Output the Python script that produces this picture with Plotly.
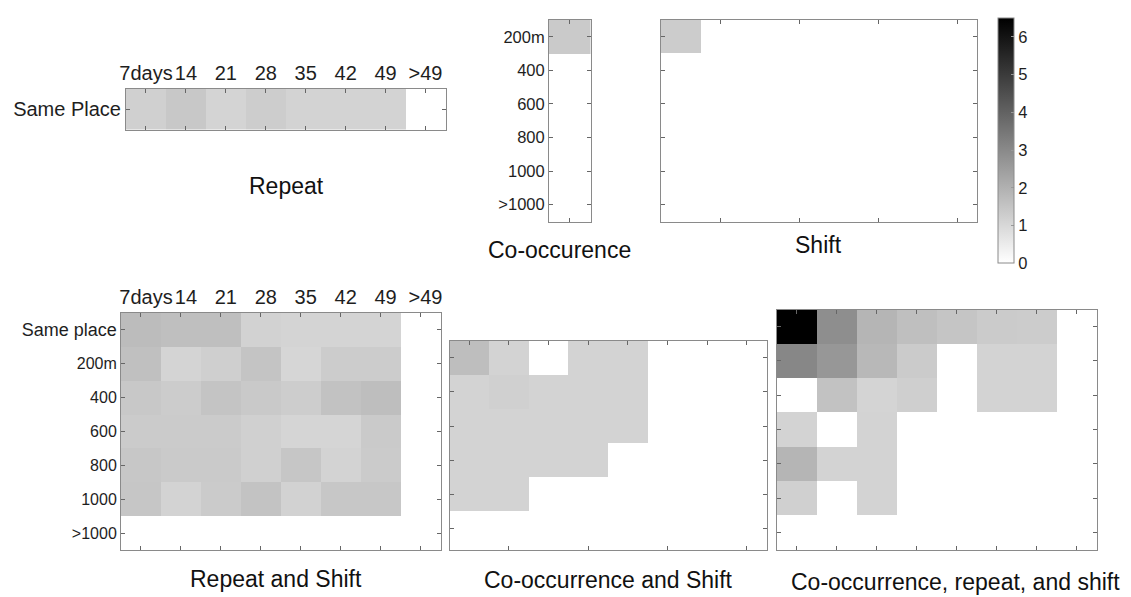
import plotly.graph_objects as go

W, H = 1131, 597

# ---------------- data ----------------
day_labels = ["7days", "14", "21", "28", "35", "42", "49", ">49"]
dist_labels_co = ["200m", "400", "600", "800", "1000", ">1000"]
dist_labels_rs = ["Same place", "200m", "400", "600", "800", "1000", ">1000"]

repeat_vals = [[1.20, 1.40, 1.10, 1.27, 1.12, 1.12, 1.12, 0.0]]

cooc_vals = [[1.35], [0.0], [0.0], [0.0], [0.0], [0.0]]

shift_vals = [
    [1.30, 0, 0, 0, 0, 0, 0, 0],
    [0, 0, 0, 0, 0, 0, 0, 0],
    [0, 0, 0, 0, 0, 0, 0, 0],
    [0, 0, 0, 0, 0, 0, 0, 0],
    [0, 0, 0, 0, 0, 0, 0, 0],
    [0, 0, 0, 0, 0, 0, 0, 0],
]

repeat_shift_vals = [
    [1.70, 1.62, 1.62, 1.14, 1.10, 1.10, 1.10, 0.0],
    [1.60, 1.10, 1.22, 1.50, 1.05, 1.30, 1.30, 0.0],
    [1.40, 1.30, 1.50, 1.38, 1.27, 1.55, 1.65, 0.0],
    [1.33, 1.33, 1.33, 1.20, 1.08, 1.08, 1.35, 0.0],
    [1.42, 1.36, 1.36, 1.20, 1.45, 1.12, 1.33, 0.0],
    [1.45, 1.12, 1.33, 1.52, 1.15, 1.42, 1.42, 0.0],
    [0, 0, 0, 0, 0, 0, 0, 0],
]

cooc_shift_vals = [
    [1.65, 1.12, 0.0, 1.12, 1.12, 0, 0, 0],
    [1.12, 1.20, 1.12, 1.12, 1.12, 0, 0, 0],
    [1.12, 1.12, 1.12, 1.12, 1.12, 0, 0, 0],
    [1.12, 1.12, 1.12, 1.12, 0, 0, 0, 0],
    [1.12, 1.12, 0, 0, 0, 0, 0, 0],
    [0, 0, 0, 0, 0, 0, 0, 0],
]

crs_vals = [
    [6.50, 2.88, 1.88, 1.62, 1.48, 1.32, 1.30, 0.0],
    [3.05, 2.65, 1.82, 1.33, 0.0, 1.12, 1.12, 0.0],
    [0.0, 1.55, 1.10, 1.22, 0.0, 1.12, 1.12, 0.0],
    [1.12, 0.0, 1.12, 0, 0, 0, 0, 0],
    [1.88, 1.12, 1.12, 0, 0, 0, 0, 0],
    [1.20, 0.0, 1.12, 0, 0, 0, 0, 0],
    [0, 0, 0, 0, 0, 0, 0, 0],
]

titles = ["Repeat", "Co-occurence", "Shift", "Repeat and Shift",
          "Co-occurrence and Shift", "Co-occurrence, repeat, and shift"]
ZMAX = 6.5
cbar_ticks = [0, 1, 2, 3, 4, 5, 6]

# ---------------- layout helpers ----------------
FONT = "Arial, Liberation Sans, sans-serif"
LINE = "#8a8a8a"
TXT = "#1e1e1e"


def xd(x0, x1):
    return [x0 / W, x1 / W]


def yd(y0, y1):
    return [1 - y1 / H, 1 - y0 / H]


def base_axis(**kw):
    d = dict(showgrid=False, zeroline=False, showline=True, linecolor=LINE,
             linewidth=1, mirror="ticks", ticks="inside", ticklen=4,
             tickcolor="#666", tickwidth=1, fixedrange=True, tickangle=0,
             automargin=False,
             tickfont=dict(family=FONT, size=16, color=TXT))
    d.update(kw)
    return d


fig = go.Figure()


def add_panel(idx, z, xdom, ydom, xaxis_kw, yaxis_kw, yrange=None):
    nrow = len(z)
    ncol = len(z[0])
    xs = list(range(1, ncol + 1))
    ys = list(range(1, nrow + 1))
    sfx = "" if idx == 1 else str(idx)
    fig.add_trace(go.Heatmap(z=z, x=xs, y=ys, coloraxis="coloraxis",
                             xaxis="x" + sfx, yaxis="y" + sfx,
                             hoverinfo="skip"))
    xa = base_axis(domain=xdom, range=[0.5, ncol + 0.5], anchor="y" + sfx)
    xa.update(xaxis_kw)
    ya = base_axis(domain=ydom,
                   range=yrange if yrange else [nrow + 0.5, 0.5],
                   anchor="x" + sfx)
    ya.update(yaxis_kw)
    fig.layout["xaxis" + sfx] = xa
    fig.layout["yaxis" + sfx] = ya


big = dict(family=FONT, size=20, color=TXT)

# P1 Repeat
add_panel(1, repeat_vals, xd(126, 445.5), yd(89, 129.5),
          dict(side="top", tickvals=list(range(1, 9)), ticktext=day_labels,
               tickfont=big),
          dict(tickvals=[1], ticktext=["Same Place"], tickfont=big))
# P2 Co-occurence
add_panel(2, cooc_vals, xd(549, 590.5), yd(20, 221.5),
          dict(tickvals=[1], showticklabels=False),
          dict(tickvals=list(range(1, 7)), ticktext=dist_labels_co,
               tickfont=dict(family=FONT, size=16.5, color=TXT)))
# P3 Shift
add_panel(3, shift_vals, xd(661, 977), yd(19.5, 221.5),
          dict(tickvals=[2, 4, 6, 8], showticklabels=False),
          dict(tickvals=list(range(1, 7)), showticklabels=False))
# P4 Repeat and Shift
rs_text = ['<span style="font-size:18px">Same place</span>'] + dist_labels_rs[1:]
add_panel(4, repeat_shift_vals, xd(121, 440.5), yd(313, 550),
          dict(side="top", tickvals=list(range(1, 9)), ticktext=day_labels,
               tickfont=big, ticklabelshift=5),
          dict(tickvals=list(range(1, 8)), ticktext=rs_text,
               tickfont=dict(family=FONT, size=16, color=TXT)))
# P5 Co-occurrence and Shift
add_panel(5, cooc_shift_vals, xd(449.5, 766.5), yd(340.5, 550),
          dict(tickvals=[2, 4, 6, 8], showticklabels=False, mirror=True),
          dict(tickvals=list(range(1, 7)), showticklabels=False),
          yrange=[6.62, 0.5])
# extra top tick row for P5 (ticks at every column on the top edge)
fig.layout["xaxis7"] = base_axis(domain=xd(449.5, 766.5), range=[0.5, 8.5],
                                 overlaying="x5", anchor="y5", side="top",
                                 showline=False, mirror=False,
                                 tickvals=list(range(1, 9)),
                                 showticklabels=False)
fig.add_trace(go.Scatter(x=[None], y=[None], xaxis="x7", yaxis="y5",
                         mode="markers", showlegend=False, hoverinfo="skip"))
# P6 Co-occurrence, repeat, and shift
add_panel(6, crs_vals, xd(777, 1096.5), yd(309.5, 549.5),
          dict(tickvals=list(range(1, 9)), showticklabels=False),
          dict(tickvals=list(range(1, 8)), showticklabels=False))

# colour axis / colourbar
fig.update_layout(coloraxis=dict(
    cmin=0, cmax=ZMAX,
    colorscale=[[0, "#ffffff"], [1, "#000000"]],
    colorbar=dict(
        x=997.7 / W, xanchor="left", xpad=0, ypad=0,
        y=1 - 140.6 / H, yanchor="middle",
        lenmode="pixels", len=245, thicknessmode="pixels", thickness=16,
        outlinewidth=1, outlinecolor=LINE,
        tickvals=cbar_ticks, ticks="inside", ticklen=3, tickcolor="#999",
        tickfont=dict(family=FONT, size=16.5, color=TXT),
    )))

# titles
title_pos = [(286, 186), (559, 250), (818.5, 245), (276, 579), (608, 580), (955, 582)]
for t, (tx, ty) in zip(titles, title_pos):
    fig.add_annotation(text=t, x=tx / W, y=1 - ty / H, xref="paper", yref="paper",
                       showarrow=False, xanchor="center", yanchor="middle",
                       font=dict(family=FONT, size=23, color="#111"))

fig.update_layout(width=W, height=H, margin=dict(l=0, r=0, t=0, b=0),
                  paper_bgcolor="white", plot_bgcolor="white",
                  showlegend=False)

fig.write_html("out.html", config={"displayModeBar": False},
               post_script="document.body.style.margin='0px';"
                           "document.body.style.overflow='hidden';")
